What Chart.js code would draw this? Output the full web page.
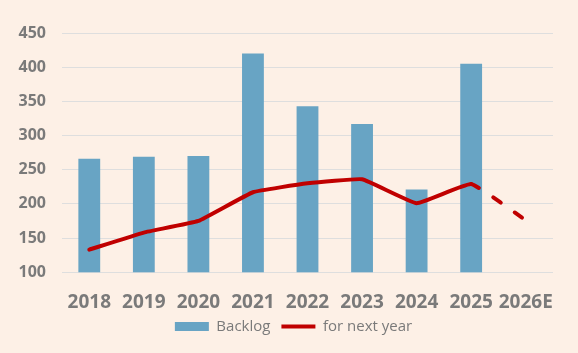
<!DOCTYPE html>
<html>
<head>
<meta charset="utf-8">
<script src="https://cdn.jsdelivr.net/npm/chart.js@4/dist/chart.umd.min.js"></script>
<style>
  html, body { margin: 0; padding: 0; background: #fdf0e6; }
  #wrap { width: 578px; height: 353px; }
</style>
</head>
<body>
<div id="wrap"><canvas id="backlogChart"></canvas></div>
<script>
const years = ['2018', '2019', '2020', '2021', '2022', '2023', '2024', '2025', '2026E'];
const backlog = [266, 269, 270, 420, 343, 317, 221, 405, null];
const nextYear = [133, 158, 175, 217, 230, 236, 201, 229, 176];
const yTicks = [100, 150, 200, 250, 300, 350, 400, 450];

const colors = {
    bar: '#68a4c4',
    line: '#c00000',
    text: '#7a7a7a',
    grid: '#dedede'
};

// legend sits a little right of the canvas centre in the original
const legendShift = {
    id: 'legendShift',
    afterLayout(chart) {
        if (chart.legend) chart.legend.left += 34;
    }
};

const ctx = document.getElementById('backlogChart');
new Chart(ctx, {
    data: {
        labels: years,
        datasets: [{
            type: 'bar',
            label: 'Backlog',
            data: backlog,
            backgroundColor: colors.bar,
            borderWidth: 0,
            barPercentage: 0.4,
            categoryPercentage: 1,
            pointStyle: 'rect',
            order: 2
        }, {
            type: 'line',
            label: 'for next year',
            data: nextYear,
            borderColor: colors.line,
            backgroundColor: colors.line,
            borderWidth: 4,
            pointRadius: 0,
            pointStyle: 'line',
            tension: 0.1,
            borderJoinStyle: 'round',
            borderCapStyle: 'round',
            segment: {
                borderDash: c => c.p1DataIndex === 8 ? [9, 17] : undefined
            },
            order: 1
        }]
    },
    plugins: [legendShift],
    options: {
        responsive: true,
        maintainAspectRatio: false,
        animation: false,
        layout: {
            padding: { left: 0, right: 25, top: 33, bottom: 9 }
        },
        plugins: {
            legend: {
                position: 'bottom',
                labels: {
                    usePointStyle: true,
                    pointStyleWidth: 34,
                    boxHeight: 9,
                    padding: 11,
                    color: colors.text,
                    font: { family: 'Open Sans', size: 15 },
                    sort: (a, b) => a.datasetIndex - b.datasetIndex
                }
            },
            tooltip: { enabled: false }
        },
        scales: {
            x: {
                grid: { display: false },
                border: { display: false },
                afterFit: axis => { axis.height -= 17; },
                ticks: {
                    color: colors.text,
                    padding: 11,
                    maxRotation: 0,
                    autoSkip: false,
                    font: { family: 'Open Sans', size: 19, weight: 'bold' }
                }
            },
            y: {
                min: 100,
                max: 450,
                afterBuildTicks: axis => {
                    axis.ticks = yTicks.map(v => ({ value: v }));
                },
                afterFit: axis => { axis.width = 62; },
                grid: { color: colors.grid, lineWidth: 1, drawTicks: false },
                border: { display: false },
                ticks: {
                    color: colors.text,
                    padding: 16,
                    font: { family: 'Open Sans', size: 16, weight: 'bold' }
                }
            }
        }
    }
});
</script>
</body>
</html>
